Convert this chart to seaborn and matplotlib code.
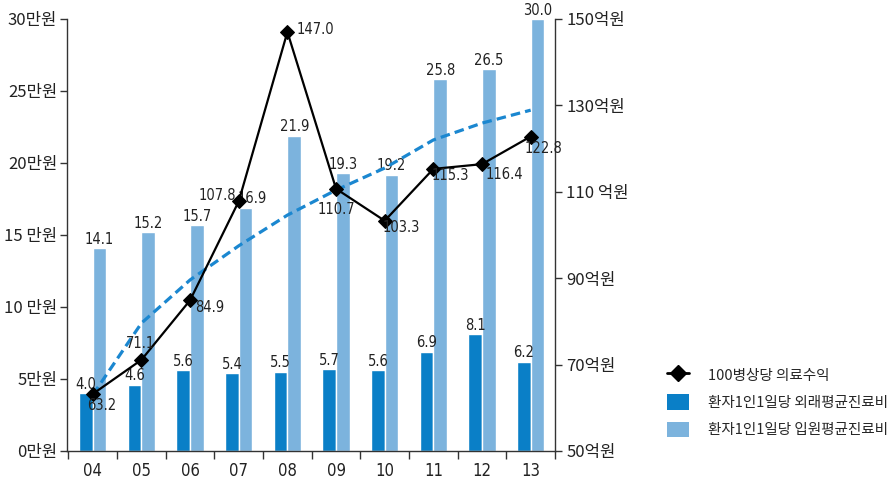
import numpy as np
import pandas as pd
import matplotlib
matplotlib.use("Agg")
import matplotlib.pyplot as plt
from matplotlib.lines import Line2D
from matplotlib.patches import Patch
from matplotlib import font_manager as fm
import seaborn as sns

# ---- data ----
years = ["04", "05", "06", "07", "08", "09", "10", "11", "12", "13"]
outpatient = [4.0, 4.6, 5.6, 5.4, 5.5, 5.7, 5.6, 6.9, 8.1, 6.2]
inpatient = [14.1, 15.2, 15.7, 16.9, 21.9, 19.3, 19.2, 25.8, 26.5, 30.0]
revenue = [63.2, 71.1, 84.9, 107.8, 147.0, 110.7, 103.3, 115.3, 116.4, 122.8]
trend = [63.0, 79.6, 89.6, 97.5, 104.6, 110.4, 115.5, 122.0, 125.9, 128.9]
left_ticks = [0, 5, 10, 15, 20, 25, 30]
left_labels = ["0만원", "5만원", "10 만원", "15 만원", "20만원", "25만원", "30만원"]
right_ticks = [50, 70, 90, 110, 130, 150]
right_labels = ["50억원", "70억원", "90억원", "110 억원", "130억원", "150억원"]
series_names = ["100병상당 의료수익", "환자1인1일당 외래평균진료비", "환자1인1일당 입원평균진료비"]

# ---- style ----
sns.set_theme(style="ticks")
plt.rcParams["font.family"] = ["Noto Sans CJK KR", "DejaVu Sans"]
num_fp = fm.FontProperties(family="DejaVu Sans", stretch="condensed", size=10.5)
dark = "#0a7fc7"
light = "#7cb3dd"
trend_col = "#1b87d0"
axis_col = "#333333"
txt_col = "#222222"

df = pd.DataFrame({
    "year": years * 2,
    "value": outpatient + inpatient,
    "kind": [series_names[1]] * len(years) + [series_names[2]] * len(years),
})

fig = plt.figure(figsize=(8.93, 4.84), dpi=100)
ax = fig.add_axes([67 / 893, 1 - 451 / 484, (555 - 67) / 893, (451 - 19) / 484])

sns.barplot(data=df, x="year", y="value", hue="kind",
            hue_order=[series_names[1], series_names[2]],
            palette=[dark, light], width=0.56, gap=0, saturation=1,
            legend=False, ax=ax)

label_sets = []
for cont in ax.containers:
    label_sets.append(ax.bar_label(cont, fmt="%.1f", padding=1,
                                   fontproperties=num_fp, color=txt_col))
# nudge the 07 inpatient label right, as in the reference
label_sets[1][3].xyann = (5, 1)

ax.set_xlim(-0.53, 9.5)
ax.set_ylim(0, 30)
ax.set_yticks(left_ticks)
ax.set_yticklabels(left_labels, fontsize=12, color=txt_col)
ax.set_xticks(range(len(years)))
ax.set_xticklabels(years, color=txt_col,
                   fontproperties=fm.FontProperties(family="DejaVu Sans", stretch="condensed", size=12))
ax.set_xticks(np.arange(-0.5, 9.6, 1.0), minor=True)
ax.tick_params(axis="x", which="major", length=0, pad=8)
ax.tick_params(axis="x", which="minor", length=6, color=axis_col, width=1)
ax.tick_params(axis="y", length=5, color=axis_col, width=1, pad=2)
ax.set_xlabel("")
ax.set_ylabel("")
for s in ["left", "bottom"]:
    ax.spines[s].set_color(axis_col)
    ax.spines[s].set_linewidth(1)
ax.spines["top"].set_visible(False)
ax.spines["right"].set_visible(False)

ax2 = ax.twinx()
xs = np.arange(len(years))
sns.lineplot(x=xs, y=trend, ax=ax2, color=trend_col, linewidth=2.3,
             linestyle=(0, (3, 1.6)))
sns.lineplot(x=xs, y=revenue, ax=ax2, color="black", linewidth=1.6,
             marker="D", markersize=7, markeredgecolor="black")
ax2.set_ylim(50, 150)
ax2.set_xlim(-0.53, 9.5)
ax2.set_yticks(right_ticks)
ax2.set_yticklabels(right_labels, fontsize=12, color=txt_col)
ax2.tick_params(axis="y", length=5, color=axis_col, width=1, pad=3)
ax2.set_ylabel("")
ax2.spines["right"].set_color(axis_col)
ax2.spines["right"].set_linewidth(1)
for s in ["top", "left", "bottom"]:
    ax2.spines[s].set_visible(False)

offsets = [(9, -12), (-1, 16), (20, -7), (-21, 6), (28, 2),
           (0, -21), (17, -7), (17, -7), (22, -10), (13, -12)]
for x, v, off in zip(xs, revenue, offsets):
    ax2.annotate(f"{v:.1f}", (x, v), xytext=off, textcoords="offset pixels",
                 ha="center", va="center", fontproperties=num_fp,
                 color=txt_col)

handles = [
    Line2D([0], [0], color="black", linewidth=2, marker="D", markersize=8),
    Patch(facecolor=dark, edgecolor="none"),
    Patch(facecolor=light, edgecolor="none"),
]
fig.legend(handles, series_names, loc="upper left",
           bbox_to_anchor=(667 / 893, 1 - 367 / 484), frameon=False,
           fontsize=10.5, handlelength=1.5, handleheight=1.25,
           handletextpad=1.3, labelspacing=0.8, borderpad=0,
           borderaxespad=0)

fig.savefig("out.png", dpi=100)
